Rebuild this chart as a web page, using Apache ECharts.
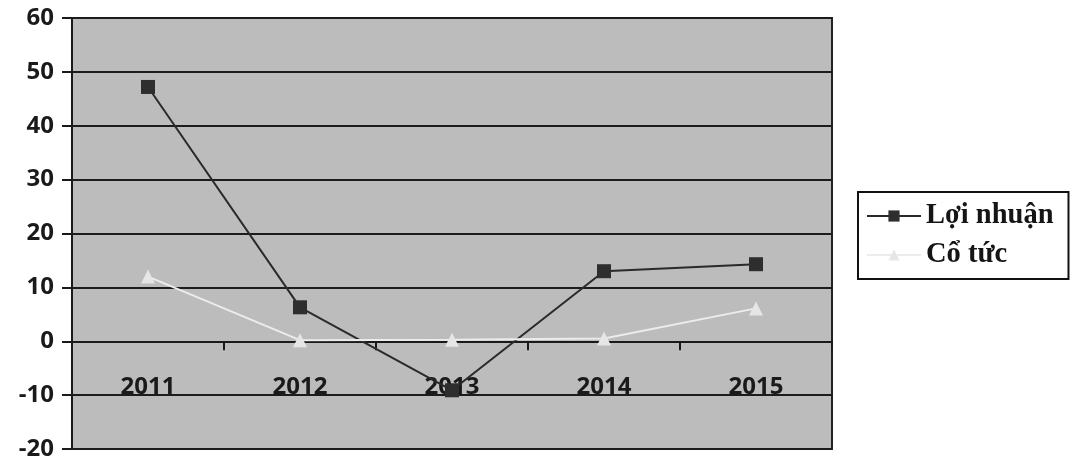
<!DOCTYPE html>
<html>
<head>
<meta charset="utf-8">
<script src="https://cdn.jsdelivr.net/npm/echarts@6/dist/echarts.min.js"></script>
<style>html,body{margin:0;padding:0;background:#fff}#c{width:1071px;height:462px}</style>
</head>
<body>
<div id="c"></div>
<script>
var categories = ['2011', '2012', '2013', '2014', '2015'];
var loiNhuan = [47.2, 6.3, -9.1, 13.0, 14.3];
var coTuc = [12.0, 0.2, 0.3, 0.5, 6.1];
var seriesNames = ['Lợi nhuận', 'Cổ tức'];

var chart = echarts.init(document.getElementById('c'));
chart.setOption({
  animation: false,
  backgroundColor: '#ffffff',
  grid: {
    left: 72, right: 239, top: 18, bottom: 13,
    outerBoundsMode: 'none',
    containLabel: false,
    show: true, backgroundColor: '#bcbcbc', borderColor: '#222', borderWidth: 2
  },
  legend: {
    orient: 'vertical',
    left: 858, top: 192,
    padding: [9, 15, 9, 8],
    itemGap: 9,
    itemWidth: 54, itemHeight: 14,
    borderColor: '#111', borderWidth: 2,
    backgroundColor: '#fff',
    textStyle: { fontFamily: 'Liberation Serif', fontWeight: 'bold', fontSize: 28.5, color: '#151515', lineHeight: 30 },
    data: seriesNames
  },
  xAxis: {
    type: 'category',
    data: categories,
    boundaryGap: true,
    axisLine: { onZero: true, lineStyle: { color: '#1a1a1a', width: 2 } },
    axisTick: { show: true, length: 9, lineStyle: { color: '#1a1a1a', width: 2 } },
    axisLabel: { margin: -74, fontFamily: 'Open Sans', fontWeight: 'bold', fontSize: 24, color: '#1a1a1a' },
    splitLine: { show: false }
  },
  yAxis: {
    type: 'value',
    min: -20, max: 60, interval: 10,
    axisLine: { show: true, onZero: false, lineStyle: { color: '#1a1a1a', width: 2 } },
    axisTick: { show: true, length: 10, lineStyle: { color: '#1a1a1a', width: 2 } },
    axisLabel: { margin: 18, fontFamily: 'Open Sans', fontWeight: 'bold', fontSize: 24, color: '#1a1a1a' },
    splitLine: { show: true, lineStyle: { color: '#1c1c1c', width: 2 } }
  },
  series: [
    {
      name: seriesNames[0], type: 'line', data: loiNhuan,
      symbol: 'rect', symbolSize: 14,
      lineStyle: { color: '#2a2a2a', width: 2 },
      itemStyle: { color: '#2e2e2e' }
    },
    {
      name: seriesNames[1], type: 'line', data: coTuc,
      symbol: 'triangle', symbolSize: 14,
      lineStyle: { color: '#ececec', width: 2 },
      itemStyle: { color: '#e6e6e6' }
    }
  ]
});
</script>
</body>
</html>
